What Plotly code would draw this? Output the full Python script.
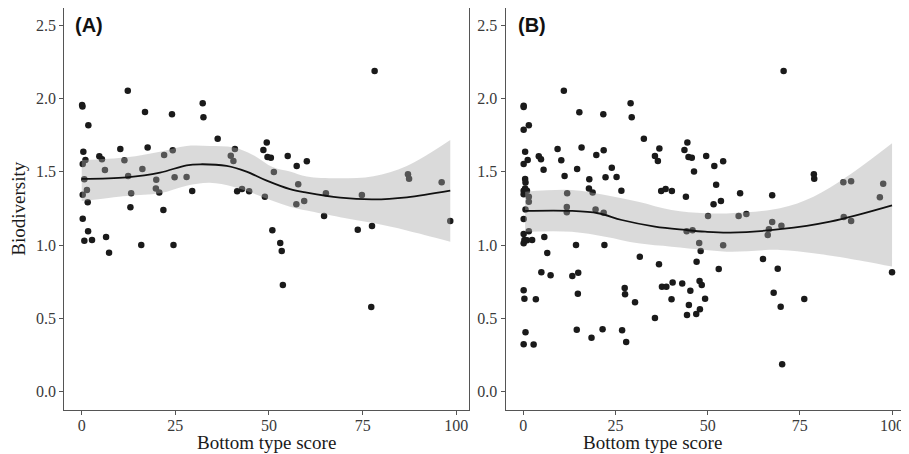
import plotly.graph_objects as go

# ---------------- Panel A data ----------------
a_x = [0.1, 0.2, 1.77, 12.3, 16.9, 24.1, 32.3, 32.5, 36.3, 0.43,
       1.0, 0.27, 4.7, 5.4, 6.2, 10.3, 11.4, 12.4, 17.6, 16.2,
       22.0, 24.3, 19.9, 24.8, 28.0, 0.7, 1.4, 0.27, 1.6, 13.2,
       13.0, 19.8, 20.7, 21.8, 29.5, 0.27, 1.7, 0.7, 2.75, 6.5,
       7.3, 15.9, 24.5, 39.8, 40.9, 40.5, 41.5, 42.8, 44.7, 48.5,
       49.4, 49.6, 50.5, 51.3, 48.9, 55.0, 50.9, 53.0, 53.4, 53.7,
       78.2, 57.4, 60.1, 57.8, 57.3, 59.4, 65.2, 64.7, 74.8, 87.1,
       87.4, 96.1, 98.4, 73.7, 77.5, 77.3]
a_y = [1.955, 1.945, 1.817, 2.053, 1.908, 1.892, 1.967, 1.872, 1.726, 1.637,
       1.580, 1.553, 1.606, 1.585, 1.512, 1.656, 1.578, 1.471, 1.665, 1.519,
       1.615, 1.647, 1.446, 1.462, 1.464, 1.449, 1.376, 1.344, 1.292, 1.353,
       1.258, 1.385, 1.358, 1.239, 1.369, 1.180, 1.094, 1.030, 1.035, 1.055,
       0.948, 1.001, 1.001, 1.610, 1.656, 1.574, 1.367, 1.383, 1.367, 1.649,
       1.699, 1.601, 1.596, 1.499, 1.330, 1.608, 1.101, 1.014, 0.960, 0.728,
       2.188, 1.540, 1.572, 1.415, 1.278, 1.301, 1.353, 1.198, 1.342, 1.483,
       1.453, 1.428, 1.164, 1.105, 1.130, 0.578]

a_fit_x = [0, 12, 20.9, 28, 31.6, 38.7, 44, 49.4, 55.6, 60.1, 69, 77.9, 86.8, 98.4]
a_fit_y = [1.451, 1.462, 1.494, 1.544, 1.551, 1.540, 1.501, 1.439, 1.381, 1.357,
           1.323, 1.312, 1.326, 1.371]
a_band_x = [0, 12, 20.9, 28, 34.2, 40.4, 45.7, 51.1, 55.6, 60.1, 69, 77.9, 86.8, 98.4]
a_band_hi = [1.580, 1.599, 1.637, 1.676, 1.676, 1.667, 1.615, 1.530, 1.501, 1.467,
             1.455, 1.470, 1.540, 1.717]
a_band_lo = [1.300, 1.335, 1.353, 1.405, 1.425, 1.398, 1.353, 1.300, 1.262, 1.235,
             1.190, 1.150, 1.100, 1.023]

# ---------------- Panel B data ----------------
b_x = [11.0, 0.1, 0.1, 29.1, 29.4, 15.2, 21.7, 0.1, 1.5, 32.7,
       0.5, 1.2, 0.1, 4.2, 4.8, 5.5, 9.3, 10.3, 11.2, 15.8,
       14.6, 19.8, 21.8, 24.0, 22.3, 25.3, 17.9, 26.6, 17.8, 18.8,
       35.7, 36.9, 36.5, 44.5, 43.7, 44.8, 45.7, 46.3, 0.5, 0.6,
       0.5, 0.1, 0.1, 1.0, 1.5, 1.5, 0.6, 0.1, 1.5, 0.1,
       0.3, 0.1, 1.0, 2.4, 5.7, 6.5, 11.9, 11.8, 11.8, 14.3,
       22.0, 19.6, 21.8, 31.6, 36.8, 37.4, 38.6, 40.3, 44.1, 44.3,
       45.9, 47.7, 48.1, 47.0, 4.9, 7.4, 13.3, 14.9, 0.1, 0.3,
       3.4, 14.8, 27.5, 27.6, 30.3, 35.7, 37.6, 38.8, 40.5, 43.1,
       45.3, 47.8, 48.4, 40.2, 44.9, 44.4, 46.9, 47.9, 49.3, 0.6,
       0.1, 2.8, 14.5, 18.5, 21.5, 26.8, 27.9,
       70.6, 49.6, 51.8, 54.2, 52.3, 51.6, 53.6, 58.8, 67.5, 50.1,
       58.4, 60.5, 54.2, 66.3, 66.6, 67.5, 70.0, 78.8, 78.9, 86.8,
       88.9, 86.9, 88.9, 96.7, 97.6, 100.0, 53.0, 65.0, 69.0, 67.9,
       69.8, 76.2, 70.2]
b_y = [2.053, 1.951, 1.942, 1.967, 1.872, 1.906, 1.892, 1.787, 1.817, 1.726,
       1.637, 1.580, 1.553, 1.606, 1.585, 1.514, 1.656, 1.578, 1.471, 1.665,
       1.519, 1.615, 1.647, 1.528, 1.462, 1.464, 1.449, 1.371, 1.385, 1.358,
       1.608, 1.658, 1.574, 1.699, 1.649, 1.601, 1.596, 1.501, 1.451, 1.426,
       1.385, 1.371, 1.346, 1.371, 1.330, 1.296, 1.242, 1.178, 1.094, 1.076,
       1.035, 1.012, 1.033, 1.035, 1.055, 0.946, 1.353, 1.260, 1.224, 1.001,
       1.001, 1.242, 1.221, 0.921, 0.869, 1.369, 1.383, 1.369, 1.330, 1.094,
       1.101, 1.014, 0.960, 0.887, 0.814, 0.794, 0.789, 0.812, 0.692, 0.634,
       0.630, 0.668, 0.707, 0.664, 0.610, 0.503, 0.716, 0.716, 0.744, 0.737,
       0.689, 0.755, 0.728, 0.630, 0.591, 0.523, 0.530, 0.562, 0.634, 0.405,
       0.323, 0.321, 0.423, 0.368, 0.426, 0.419, 0.339,
       2.188, 1.608, 1.540, 1.572, 1.412, 1.278, 1.301, 1.353, 1.340, 1.198,
       1.198, 1.212, 0.999, 1.069, 1.108, 1.158, 1.132, 1.483, 1.453, 1.428,
       1.435, 1.192, 1.164, 1.326, 1.419, 0.814, 0.837, 0.905, 0.839, 0.675,
       0.580, 0.632, 0.187]

b_fit_x = [0.5, 13.1, 20.3, 26.7, 35.7, 43.9, 49.3, 56.1, 69.6, 83.2, 100]
b_fit_y = [1.233, 1.233, 1.217, 1.171, 1.126, 1.103, 1.091, 1.085, 1.108, 1.160, 1.271]
b_band_x = [0.5, 13.1, 22.2, 31.2, 40.2, 49.3, 56.1, 69.6, 78.7, 87.8, 100]
b_band_hi = [1.364, 1.376, 1.342, 1.296, 1.239, 1.217, 1.217, 1.251, 1.330, 1.467, 1.694]
b_band_lo = [1.091, 1.091, 1.057, 1.012, 0.989, 0.967, 0.955, 0.967, 0.944, 0.910, 0.853]

x_ticks = [0, 25, 50, 75, 100]
y_ticks = [0.0, 0.5, 1.0, 1.5, 2.0, 2.5]
x_title = "Bottom type score"
y_title = "Biodiversity"
panel_labels = ["(A)", "(B)"]

# page body has an 8px margin; size the figure so it fills the rest of the window
OFF = 8
W, H = 909 - OFF, 454 - OFF


def fx(px):
    return min(1.0, max(0.0, (px - OFF) / W))


def fy(py):
    return min(1.0, max(0.0, 1 - (py - OFF) / H))


PT_COLOR = "#1a1a1a"
BAND_COLOR = "rgba(166,166,168,0.42)"
AX_COLOR = "#555555"

fig = go.Figure()


def add_panel(px, py, fitx, fity, bx, hi, lo, xa, ya):
    fig.add_trace(go.Scatter(x=px, y=py, mode="markers", xaxis=xa, yaxis=ya,
                             marker=dict(color=PT_COLOR, size=6.5, line=dict(width=0)),
                             showlegend=False, hoverinfo="skip"))
    fig.add_trace(go.Scatter(x=bx, y=lo, mode="lines", xaxis=xa, yaxis=ya,
                             line=dict(width=0, shape="spline", color="rgba(0,0,0,0)"),
                             showlegend=False, hoverinfo="skip"))
    fig.add_trace(go.Scatter(x=bx, y=hi, mode="lines", xaxis=xa, yaxis=ya,
                             line=dict(width=0, shape="spline", color="rgba(0,0,0,0)"),
                             fill="tonexty", fillcolor=BAND_COLOR,
                             showlegend=False, hoverinfo="skip"))
    fig.add_trace(go.Scatter(x=fitx, y=fity, mode="lines", xaxis=xa, yaxis=ya,
                             line=dict(width=1.8, shape="spline", color="#111111"),
                             showlegend=False, hoverinfo="skip"))


add_panel(a_x, a_y, a_fit_x, a_fit_y, a_band_x, a_band_hi, a_band_lo, "x", "y")
add_panel(b_x, b_y, b_fit_x, b_fit_y, b_band_x, b_band_hi, b_band_lo, "x2", "y2")

tickfont = dict(family="Liberation Serif", size=16, color="#3a3a3a")
ydom = [fy(410), fy(8.0)]
yrange = [-0.125, 2.617]

common_x = dict(tickvals=x_ticks, ticktext=[str(t) for t in x_ticks], ticks="outside",
                ticklen=4, tickwidth=1.2, tickcolor=AX_COLOR, showline=True,
                linecolor=AX_COLOR, linewidth=1.3, showgrid=False, zeroline=False,
                tickfont=tickfont, ticklabelstandoff=-3)
common_y = dict(tickvals=y_ticks, ticktext=["%.1f" % t for t in y_ticks], ticks="outside",
                ticklen=4, tickwidth=1.2, tickcolor=AX_COLOR, showline=True,
                linecolor=AX_COLOR, linewidth=1.3, showgrid=False, zeroline=False,
                tickfont=tickfont, range=yrange, domain=ydom)

fig.update_layout(
    width=W, height=H,
    margin=dict(l=0, r=0, t=0, b=0),
    paper_bgcolor="white", plot_bgcolor="white",
    xaxis=dict(common_x, domain=[fx(64.3), fx(469)], range=[-4.65, 103.4], anchor="y", mirror=True),
    yaxis=dict(common_y, anchor="x", mirror=True),
    xaxis2=dict(common_x, domain=[fx(505.7), 1.0], range=[-4.77, 104.6], anchor="y2", mirror=True),
    yaxis2=dict(common_y, anchor="x2", mirror=False),
)

title_font = dict(family="Liberation Serif", size=19, color="#1a1a1a")
fig.add_annotation(text=x_title, x=fx((64.3 + 469) / 2), y=fy(442), xref="paper", yref="paper",
                   showarrow=False, font=title_font, xanchor="center", yanchor="middle")
fig.add_annotation(text=x_title, x=fx(652), y=fy(442), xref="paper", yref="paper",
                   showarrow=False, font=title_font, xanchor="center", yanchor="middle")
fig.add_annotation(text=y_title, x=fx(19), y=fy(208.7), xref="paper", yref="paper",
                   showarrow=False, font=title_font, textangle=-90,
                   xanchor="center", yanchor="middle")

lab_font = dict(family="Liberation Sans", size=20, color="#111111")
fig.add_annotation(text="<b>%s</b>" % panel_labels[0], x=fx(88.5), y=fy(25), xref="paper",
                   yref="paper", showarrow=False, font=lab_font, xanchor="center", yanchor="middle")
fig.add_annotation(text="<b>%s</b>" % panel_labels[1], x=fx(532), y=fy(25), xref="paper",
                   yref="paper", showarrow=False, font=lab_font, xanchor="center", yanchor="middle")

fig.write_html("out.html")
